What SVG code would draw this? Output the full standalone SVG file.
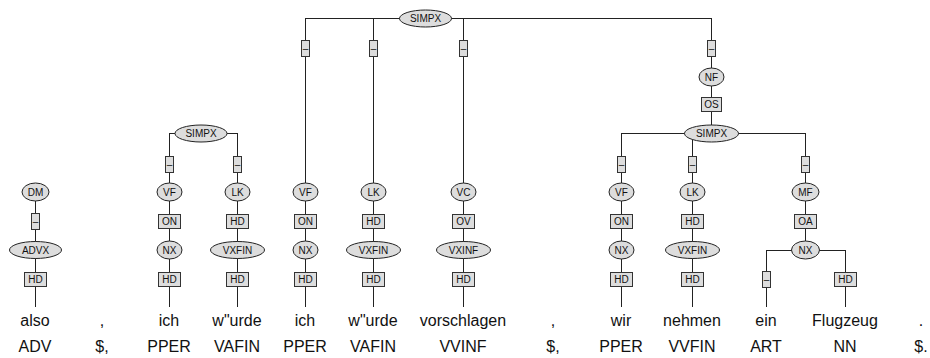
<svg xmlns="http://www.w3.org/2000/svg" width="930" height="358" viewBox="0 0 930 358">
<style>
.bg{fill:#fff}
.ln{stroke:#222;stroke-width:1;fill:none}
.el{fill:#ddd;stroke:#222;stroke-width:1}
.bx{fill:#ddd;stroke:#333;stroke-width:1}
.lb{font-family:"Liberation Sans",Arial,sans-serif;font-size:10px;fill:#111;text-anchor:middle;dominant-baseline:central}
.wd{font-family:"Liberation Sans",Arial,sans-serif;font-size:16px;fill:#111;text-anchor:middle}
</style>
<rect class="bg" x="0" y="0" width="930" height="358"/>
<g id="connectors" class="ln">
<path d="M305.5,18.5H711.5"/>
<path d="M169.5,133.5H237.5"/>
<path d="M621.5,133.5H805.5"/>
<path d="M766.5,250.5H845.5"/>
<path d="M35.5,192V307"/>
<path d="M169.5,133V307"/>
<path d="M237.5,133V307"/>
<path d="M305.5,18V307"/>
<path d="M373.5,18V307"/>
<path d="M463.5,18V307"/>
<path d="M621.5,133V307"/>
<path d="M692.5,133V307"/>
<path d="M711.5,18V133"/>
<path d="M805.5,133V250"/>
<path d="M766.5,250V307"/>
<path d="M845.5,250V307"/>
</g>
<g id="edge-labels">
<g id="e-simpx1-vf"><rect class="bx" x="301.5" y="40.5" width="8" height="16"/><text class="lb" x="305.5" y="48.5">–</text></g>
<g id="e-simpx1-lk"><rect class="bx" x="369.5" y="40.5" width="8" height="16"/><text class="lb" x="373.5" y="48.5">–</text></g>
<g id="e-simpx1-vc"><rect class="bx" x="459.5" y="40.5" width="8" height="16"/><text class="lb" x="463.5" y="48.5">–</text></g>
<g id="e-simpx1-nf"><rect class="bx" x="707.5" y="40.5" width="8" height="16"/><text class="lb" x="711.5" y="48.5">–</text></g>
<g id="e-nf-simpx3"><rect class="bx" x="701.5" y="97.5" width="20" height="14"/><text class="lb" x="711.5" y="104.5">OS</text></g>
<g id="e-simpx2-vf"><rect class="bx" x="165.5" y="156.5" width="8" height="16"/><text class="lb" x="169.5" y="164.5">–</text></g>
<g id="e-simpx2-lk"><rect class="bx" x="233.5" y="156.5" width="8" height="16"/><text class="lb" x="237.5" y="164.5">–</text></g>
<g id="e-simpx3-vf"><rect class="bx" x="617.5" y="156.5" width="8" height="16"/><text class="lb" x="621.5" y="164.5">–</text></g>
<g id="e-simpx3-lk"><rect class="bx" x="688.5" y="156.5" width="8" height="16"/><text class="lb" x="692.5" y="164.5">–</text></g>
<g id="e-simpx3-mf"><rect class="bx" x="801.5" y="156.5" width="8" height="16"/><text class="lb" x="805.5" y="164.5">–</text></g>
<g id="e-dm-advx"><rect class="bx" x="31.5" y="213.5" width="8" height="16"/><text class="lb" x="35.5" y="221.5">–</text></g>
<g id="e-vf1-nx"><rect class="bx" x="158.5" y="214.5" width="22" height="14"/><text class="lb" x="169.5" y="221.5">ON</text></g>
<g id="e-lk1-vxfin"><rect class="bx" x="226.5" y="214.5" width="22" height="14"/><text class="lb" x="237.5" y="221.5">HD</text></g>
<g id="e-vf2-nx"><rect class="bx" x="294.5" y="214.5" width="22" height="14"/><text class="lb" x="305.5" y="221.5">ON</text></g>
<g id="e-lk2-vxfin"><rect class="bx" x="362.5" y="214.5" width="22" height="14"/><text class="lb" x="373.5" y="221.5">HD</text></g>
<g id="e-vc-vxinf"><rect class="bx" x="452.5" y="214.5" width="22" height="14"/><text class="lb" x="463.5" y="221.5">OV</text></g>
<g id="e-vf3-nx"><rect class="bx" x="610.5" y="214.5" width="22" height="14"/><text class="lb" x="621.5" y="221.5">ON</text></g>
<g id="e-lk3-vxfin"><rect class="bx" x="681.5" y="214.5" width="22" height="14"/><text class="lb" x="692.5" y="221.5">HD</text></g>
<g id="e-mf-nx"><rect class="bx" x="794.5" y="214.5" width="22" height="14"/><text class="lb" x="805.5" y="221.5">OA</text></g>
<g id="e-advx-also"><rect class="bx" x="24.5" y="272.5" width="22" height="14"/><text class="lb" x="35.5" y="279.5">HD</text></g>
<g id="e-nx1-ich"><rect class="bx" x="158.5" y="272.5" width="22" height="14"/><text class="lb" x="169.5" y="279.5">HD</text></g>
<g id="e-vxfin1-wurde"><rect class="bx" x="226.5" y="272.5" width="22" height="14"/><text class="lb" x="237.5" y="279.5">HD</text></g>
<g id="e-nx2-ich"><rect class="bx" x="294.5" y="272.5" width="22" height="14"/><text class="lb" x="305.5" y="279.5">HD</text></g>
<g id="e-vxfin2-wurde"><rect class="bx" x="362.5" y="272.5" width="22" height="14"/><text class="lb" x="373.5" y="279.5">HD</text></g>
<g id="e-vxinf-vorschlagen"><rect class="bx" x="452.5" y="272.5" width="22" height="14"/><text class="lb" x="463.5" y="279.5">HD</text></g>
<g id="e-nx3-wir"><rect class="bx" x="610.5" y="272.5" width="22" height="14"/><text class="lb" x="621.5" y="279.5">HD</text></g>
<g id="e-vxfin3-nehmen"><rect class="bx" x="681.5" y="272.5" width="22" height="14"/><text class="lb" x="692.5" y="279.5">HD</text></g>
<g id="e-nx4-ein"><rect class="bx" x="762.5" y="271.5" width="8" height="16"/><text class="lb" x="766.5" y="279.5">–</text></g>
<g id="e-nx4-flugzeug"><rect class="bx" x="834.5" y="272.5" width="22" height="14"/><text class="lb" x="845.5" y="279.5">HD</text></g>
</g>
<g id="n-simpx1"><ellipse class="el" cx="425.5" cy="18.5" rx="26" ry="8.5"/><text class="lb" x="425.5" y="18.5">SIMPX</text></g>
<g id="n-nf"><ellipse class="el" cx="711.5" cy="77" rx="12.5" ry="9"/><text class="lb" x="711.5" y="77">NF</text></g>
<g id="n-simpx2"><ellipse class="el" cx="201" cy="133.5" rx="26" ry="8.5"/><text class="lb" x="201" y="133.5">SIMPX</text></g>
<g id="n-simpx3"><ellipse class="el" cx="711.5" cy="133.5" rx="27" ry="8.5"/><text class="lb" x="711.5" y="133.5">SIMPX</text></g>
<g id="n-dm"><ellipse class="el" cx="35.5" cy="192" rx="13.5" ry="9"/><text class="lb" x="35.5" y="192">DM</text></g>
<g id="n-vf1"><ellipse class="el" cx="169.5" cy="192" rx="12.5" ry="9"/><text class="lb" x="169.5" y="192">VF</text></g>
<g id="n-lk1"><ellipse class="el" cx="237.5" cy="192" rx="12.5" ry="9"/><text class="lb" x="237.5" y="192">LK</text></g>
<g id="n-vf2"><ellipse class="el" cx="305.5" cy="192" rx="12.5" ry="9"/><text class="lb" x="305.5" y="192">VF</text></g>
<g id="n-lk2"><ellipse class="el" cx="373.5" cy="192" rx="12.5" ry="9"/><text class="lb" x="373.5" y="192">LK</text></g>
<g id="n-vc"><ellipse class="el" cx="463.5" cy="192" rx="12.5" ry="9"/><text class="lb" x="463.5" y="192">VC</text></g>
<g id="n-vf3"><ellipse class="el" cx="621.5" cy="192" rx="12.5" ry="9"/><text class="lb" x="621.5" y="192">VF</text></g>
<g id="n-lk3"><ellipse class="el" cx="692.5" cy="192" rx="12.5" ry="9"/><text class="lb" x="692.5" y="192">LK</text></g>
<g id="n-mf"><ellipse class="el" cx="805.5" cy="192" rx="13.5" ry="9"/><text class="lb" x="805.5" y="192">MF</text></g>
<g id="n-advx"><ellipse class="el" cx="35.5" cy="250" rx="26" ry="8.5"/><text class="lb" x="35.5" y="250">ADVX</text></g>
<g id="n-nx1"><ellipse class="el" cx="169.5" cy="250" rx="12.5" ry="9"/><text class="lb" x="169.5" y="250">NX</text></g>
<g id="n-vxfin1"><ellipse class="el" cx="237.5" cy="250" rx="27" ry="8.5"/><text class="lb" x="237.5" y="250">VXFIN</text></g>
<g id="n-nx2"><ellipse class="el" cx="305.5" cy="250" rx="12.5" ry="9"/><text class="lb" x="305.5" y="250">NX</text></g>
<g id="n-vxfin2"><ellipse class="el" cx="373.5" cy="250" rx="27" ry="8.5"/><text class="lb" x="373.5" y="250">VXFIN</text></g>
<g id="n-vxinf"><ellipse class="el" cx="463.5" cy="250" rx="27" ry="8.5"/><text class="lb" x="463.5" y="250">VXINF</text></g>
<g id="n-nx3"><ellipse class="el" cx="621.5" cy="250" rx="12.5" ry="9"/><text class="lb" x="621.5" y="250">NX</text></g>
<g id="n-vxfin3"><ellipse class="el" cx="692.5" cy="250" rx="27" ry="8.5"/><text class="lb" x="692.5" y="250">VXFIN</text></g>
<g id="n-nx4"><ellipse class="el" cx="805.5" cy="250" rx="14" ry="9"/><text class="lb" x="805.5" y="250">NX</text></g>
<g id="tokens">
<g id="t1"><text class="wd" x="35" y="326">also</text><text class="wd" x="35" y="352">ADV</text></g>
<g id="t2"><text class="wd" x="102" y="326">,</text><text class="wd" x="102" y="352">$,</text></g>
<g id="t3"><text class="wd" x="169" y="326">ich</text><text class="wd" x="169" y="352">PPER</text></g>
<g id="t4"><text class="wd" x="237" y="326">w"urde</text><text class="wd" x="237" y="352">VAFIN</text></g>
<g id="t5"><text class="wd" x="305" y="326">ich</text><text class="wd" x="305" y="352">PPER</text></g>
<g id="t6"><text class="wd" x="373" y="326">w"urde</text><text class="wd" x="373" y="352">VAFIN</text></g>
<g id="t7"><text class="wd" x="463" y="326">vorschlagen</text><text class="wd" x="463" y="352">VVINF</text></g>
<g id="t8"><text class="wd" x="553" y="326">,</text><text class="wd" x="553" y="352">$,</text></g>
<g id="t9"><text class="wd" x="621" y="326">wir</text><text class="wd" x="621" y="352">PPER</text></g>
<g id="t10"><text class="wd" x="692" y="326">nehmen</text><text class="wd" x="692" y="352">VVFIN</text></g>
<g id="t11"><text class="wd" x="766" y="326">ein</text><text class="wd" x="766" y="352">ART</text></g>
<g id="t12"><text class="wd" x="845" y="326">Flugzeug</text><text class="wd" x="845" y="352">NN</text></g>
<g id="t13"><text class="wd" x="921" y="326">.</text><text class="wd" x="921" y="352">$.</text></g>
</g>
</svg>
